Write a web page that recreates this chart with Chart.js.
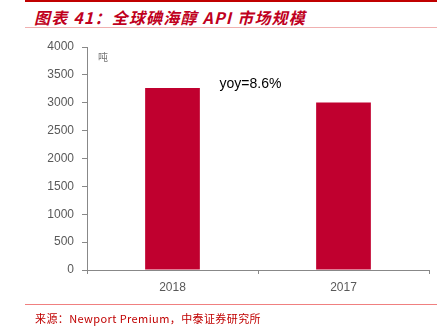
<!DOCTYPE html>
<html><head><meta charset="utf-8">
<script src="https://cdn.jsdelivr.net/npm/chart.js@4/dist/chart.umd.min.js"></script>
<style>
html,body{margin:0;padding:0;background:#fff;}
#wrap{position:relative;width:443px;height:331px;overflow:hidden;}
#c{position:absolute;left:0;top:0;}
.ln{position:absolute;left:25px;width:412px;}
#title{position:absolute;left:34px;top:5px;font:italic bold 16px "Noto Sans CJK SC","Liberation Sans",sans-serif;color:#c00020;white-space:nowrap;letter-spacing:1.2px;}
#src{position:absolute;left:35px;top:310px;font:11px "Noto Sans CJK SC","DejaVu Sans Mono",monospace;color:#c00000;white-space:nowrap;letter-spacing:0.4px;}
</style></head>
<body><div id="wrap">
<div class="ln" style="top:0px;height:2px;background:#c00000"></div>
<div id="title">图表 41：全球碘海醇 API 市场规模</div>
<div class="ln" style="top:27px;height:1px;background:#f0b0b0"></div>
<canvas id="c" width="443" height="331"></canvas>
<div class="ln" style="top:304px;height:1px;background:#f08080"></div>
<div id="src">来源：Newport Premium，中泰证券研究所</div>
</div>
<script>
const categories = ["2018", "2017"];
const marketSize = [3265, 3005];
const yTicks = [0, 500, 1000, 1500, 2000, 2500, 3000, 3500, 4000];
const unitLabel = "吨";
const yoyLabel = "yoy=8.6%";

const textPlugin = {
  id: 'texts',
  afterDraw(chart) {
    const ctx = chart.ctx, a = chart.chartArea;
    const x = chart.scales.x, y = chart.scales.y;
    ctx.save();
    ctx.fillStyle = '#777';
    ctx.font = '10px "Noto Sans CJK SC", sans-serif';
    ctx.textBaseline = 'middle';
    ctx.textAlign = 'left';
    ctx.fillText(unitLabel, a.left + 11, a.top + 10);
    ctx.fillStyle = '#000';
    ctx.font = '14px "Liberation Sans", Arial, sans-serif';
    ctx.fillText(yoyLabel, x.getPixelForValue(0.275), y.getPixelForValue(3340));
    ctx.restore();
  }
};

new Chart(document.getElementById('c'), {
  type: 'bar',
  data: {
    labels: categories,
    datasets: [{
      data: marketSize,
      backgroundColor: '#c0002f',
      borderWidth: 0,
      categoryPercentage: 1.0,
      barPercentage: 0.32
    }]
  },
  options: {
    responsive: false,
    animation: false,
    devicePixelRatio: 1,
    layout: { padding: { left: 0, right: 14, top: 47, bottom: 31 } },
    plugins: { legend: { display: false }, tooltip: { enabled: false } },
    scales: {
      y: {
        min: 0, max: 4000,
        afterBuildTicks(s) { s.ticks = yTicks.map(v => ({ value: v })); },
        afterFit(s) { s.width = 87; },
        border: { display: true, color: '#888', width: 1 },
        grid: { display: true, drawOnChartArea: false, drawTicks: true, tickLength: 5, color: '#888' },
        ticks: { color: '#595959', font: { family: '"Liberation Sans", Arial, sans-serif', size: 12 }, padding: 8, callback: v => String(v) }
      },
      x: {
        afterFit(s) { s.height = 30; },
        border: { display: true, color: '#888', width: 1 },
        grid: { display: true, drawOnChartArea: false, drawTicks: true, tickLength: 4, color: '#888', offset: true },
        ticks: { color: '#595959', font: { family: '"Liberation Sans", Arial, sans-serif', size: 12 }, padding: 6 }
      }
    }
  },
  plugins: [textPlugin]
});
</script>
</body></html>
